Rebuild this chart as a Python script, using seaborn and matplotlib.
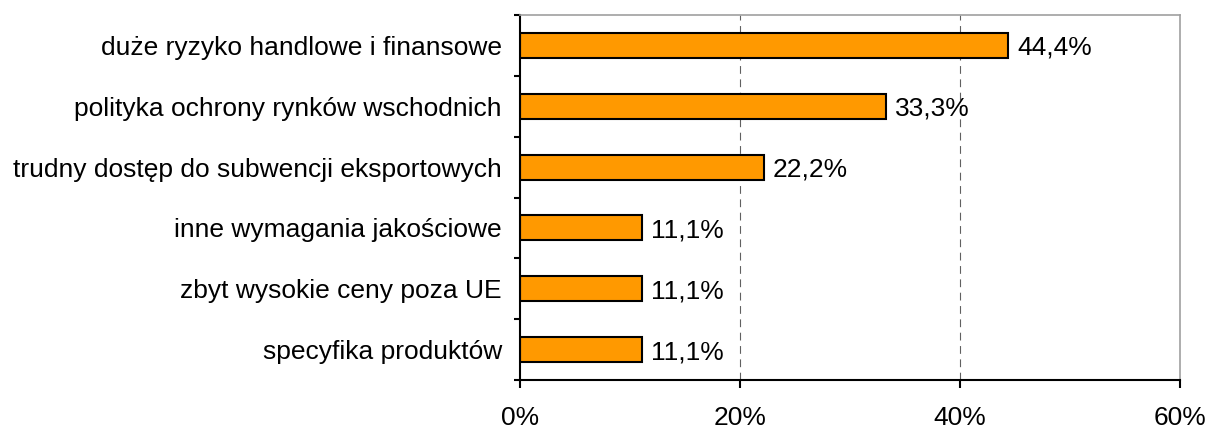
import numpy as np
import pandas as pd
import matplotlib
matplotlib.use('Agg')
import matplotlib.pyplot as plt
import seaborn as sns

#data
categories = ['duże ryzyko handlowe i finansowe',
              'polityka ochrony rynków wschodnich',
              'trudny dostęp do subwencji eksportowych',
              'inne wymagania jakościowe',
              'zbyt wysokie ceny poza UE',
              'specyfika produktów']
values = [44.4, 33.3, 22.2, 11.1, 11.1, 11.1]
value_labels = ['44,4%', '33,3%', '22,2%', '11,1%', '11,1%', '11,1%']
x_ticks = [0, 20, 40, 60]
x_tick_labels = ['0%', '20%', '40%', '60%']

df = pd.DataFrame({'kategoria': categories, 'procent': values})

sns.set_style('white')
plt.rcParams['font.family'] = ['Liberation Sans', 'DejaVu Sans']
plt.rcParams['text.color'] = 'black'

fs = 19

fig = plt.figure(figsize=(12.08, 4.28), dpi=100)
ax = fig.add_axes([520 / 1208, 1 - 380 / 428, 660 / 1208, 365 / 428])

sns.barplot(data=df, x='procent', y='kategoria', color='#FF9900',
            edgecolor='black', linewidth=1.5, width=0.41, saturation=1, ax=ax)

#value labels right of each bar
for i, (v, lab) in enumerate(zip(values, value_labels)):
    ax.text(v + 0.8, i, lab, va='center_baseline', ha='left', fontsize=fs, color='black')

ax.set_xlim(0, 60)
ax.set_ylim(5.5, -0.5)
ax.set_xticks(x_ticks)
ax.set_xticklabels(x_tick_labels, fontsize=fs)
ax.tick_params(axis='x', bottom=True, direction='out', length=6, width=1.5,
               pad=13, colors='black')

#category names on minor ticks, tick marks on category boundaries
ax.set_yticks(np.arange(-0.5, 6, 1))
ax.set_yticklabels([])
ax.set_yticks(np.arange(len(categories)), minor=True)
ax.set_yticklabels(categories, minor=True, fontsize=fs)
ax.tick_params(axis='y', which='major', left=True, direction='out', length=4.5,
               width=1.5, colors='black')
ax.tick_params(axis='y', which='minor', left=True, length=0, pad=13, colors='black')

ax.set_xlabel('')
ax.set_ylabel('')

for x in x_ticks[1:3]:
    ax.axvline(x, color='#606060', linestyle=(0, (7, 5)), linewidth=0.8, zorder=0)

ax.spines['left'].set_color('black')
ax.spines['left'].set_linewidth(1.5)
ax.spines['bottom'].set_color('black')
ax.spines['bottom'].set_linewidth(1.5)
ax.spines['top'].set_color('#a0a0a0')
ax.spines['top'].set_linewidth(1.2)
ax.spines['right'].set_color('#a0a0a0')
ax.spines['right'].set_linewidth(1.2)

fig.savefig('out.png', dpi=100)
